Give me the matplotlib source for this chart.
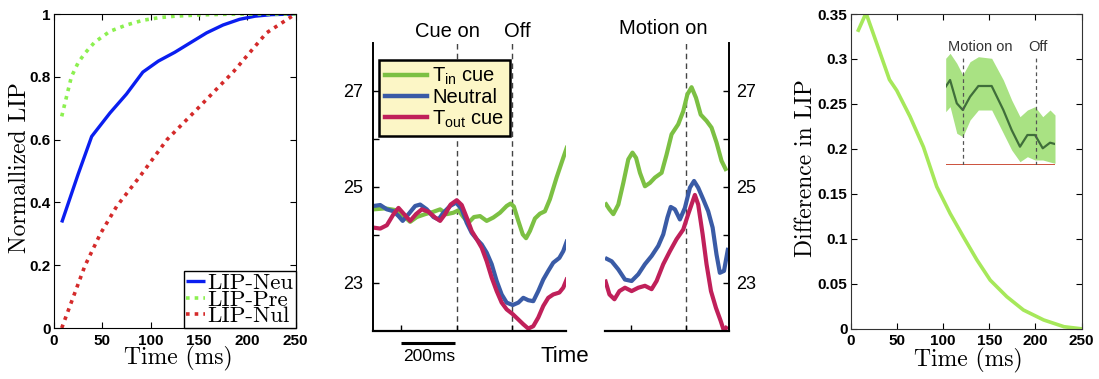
import matplotlib
matplotlib.use("Agg")
import matplotlib.pyplot as plt
from matplotlib.lines import Line2D

plt.rcParams['font.family'] = ['Liberation Sans', 'DejaVu Sans']
plt.rcParams['mathtext.fontset'] = 'custom'
plt.rcParams['mathtext.rm'] = 'Liberation Sans'
plt.rcParams['mathtext.it'] = 'Liberation Sans:italic'
plt.rcParams['mathtext.bf'] = 'Liberation Sans:bold'

# ---------------- data ----------------
# Panel A: normalized LIP activity over time
neu_t = [8, 25, 39, 58, 75, 92, 108, 125, 142, 158, 175, 192, 208, 225, 250]
neu_v = [0.336, 0.49, 0.61, 0.685, 0.745, 0.815, 0.85, 0.878, 0.91, 0.94, 0.965, 0.983, 0.993, 0.998, 1.0]
pre_t = [8, 18, 25, 32, 42, 58, 75, 92, 108, 125, 150, 175, 200, 225, 250]
pre_v = [0.674, 0.80, 0.845, 0.875, 0.91, 0.945, 0.965, 0.98, 0.988, 0.993, 0.997, 0.999, 1.0, 1.0, 1.0]
nul_t = [8, 32, 48, 65, 89, 117, 151, 186, 220, 250]
nul_v = [0.0, 0.198, 0.30, 0.388, 0.483, 0.60, 0.706, 0.817, 0.94, 1.0]

# Panel B: firing rate aligned to cue onset (ms)
cue_tin_t = [-300, -258, -216, -192, -168, -144, -114, -84, -60, -36, -12, 6, 24, 42, 62, 84, 108,
             132, 156, 180, 194, 206, 222, 238, 250, 264, 282, 300, 318, 336, 360, 384, 399]
cue_tin_v = [24.53, 24.55, 24.51, 24.39, 24.27, 24.37, 24.43, 24.48, 24.53, 24.43, 24.46, 24.51, 24.37,
             24.25, 24.37, 24.39, 24.29, 24.36, 24.46, 24.60, 24.65, 24.59, 24.29, 24.01, 23.93, 24.08,
             24.34, 24.44, 24.49, 24.74, 25.19, 25.60, 25.85]
cue_neu_t = [-300, -276, -252, -228, -210, -195, -174, -150, -132, -108, -84, -66, -48, -24, -2, 18,
             36, 54, 72, 90, 108, 126, 144, 162, 180, 202, 222, 240, 258, 276, 294, 312, 330, 348,
             370, 384, 399]
cue_neu_v = [24.60, 24.62, 24.53, 24.49, 24.39, 24.29, 24.43, 24.60, 24.63, 24.53, 24.37, 24.32, 24.46,
             24.60, 24.67, 24.53, 24.25, 24.04, 23.91, 23.80, 23.63, 23.39, 23.04, 22.76, 22.59, 22.54,
             22.59, 22.69, 22.64, 22.62, 22.83, 23.07, 23.25, 23.42, 23.52, 23.66, 23.90]
cue_tout_t = [-300, -276, -252, -228, -210, -190, -168, -147, -126, -102, -78, -60, -42, -22, 0, 18,
              36, 54, 72, 90, 108, 126, 144, 162, 180, 202, 222, 240, 258, 276, 294, 312, 330, 348,
              370, 384, 399]
cue_tout_v = [24.15, 24.13, 24.20, 24.43, 24.56, 24.43, 24.29, 24.43, 24.53, 24.48, 24.36, 24.29, 24.43,
              24.63, 24.72, 24.62, 24.36, 24.08, 23.91, 23.73, 23.45, 23.11, 22.83, 22.59, 22.45, 22.35,
              22.24, 22.14, 22.05, 22.10, 22.28, 22.52, 22.69, 22.76, 22.80, 22.90, 23.11]

# Panel B: firing rate aligned to motion onset (ms)
mot_tin_t = [-292, -276, -262, -244, -226, -208, -193, -180, -166, -148, -130, -112, -88, -70, -52,
             -28, -10, 5, 20, 36, 53, 74, 92, 110, 128, 146]
mot_tin_v = [24.67, 24.53, 24.43, 24.63, 25.08, 25.57, 25.71, 25.60, 25.29, 25.01, 25.08, 25.19, 25.29,
             25.67, 26.09, 26.30, 26.57, 26.92, 27.07, 26.85, 26.50, 26.37, 26.23, 25.92, 25.54, 25.33]
mot_neu_t = [-292, -268, -244, -220, -196, -172, -148, -124, -100, -82, -67, -55, -40, -22, -4, 14,
             29, 44, 62, 80, 96, 110, 122, 137, 152]
mot_neu_v = [23.52, 23.45, 23.28, 23.07, 23.04, 23.18, 23.39, 23.56, 23.77, 24.01, 24.36, 24.58, 24.53,
             24.32, 24.56, 24.98, 25.12, 24.98, 24.74, 24.49, 24.15, 23.59, 23.21, 23.25, 23.73]
mot_tout_t = [-292, -276, -258, -240, -220, -196, -172, -148, -124, -106, -82, -58, -34, -10, 8, 20,
              32, 44, 60, 74, 90, 108, 125, 137, 149]
mot_tout_v = [23.07, 22.76, 22.66, 22.83, 22.90, 22.83, 22.90, 22.94, 22.87, 23.04, 23.39, 23.66, 23.91,
              24.11, 24.43, 24.63, 24.83, 24.63, 24.01, 23.39, 22.83, 22.48, 22.21, 22.00, 22.10]

# Panel C: difference in LIP activity
diff_t = [8, 16.3, 28, 41.7, 49.6, 64, 78.6, 93, 107.6, 122, 136.6, 151, 169, 187, 209, 231, 249]
diff_v = [0.332, 0.351, 0.317, 0.277, 0.265, 0.236, 0.202, 0.158, 0.128, 0.102, 0.0764, 0.054, 0.0356,
          0.0208, 0.0097, 0.0022, 0.0]

# Panel C inset: mean difference with confidence band
ins_t = [-117, -87, -41, 0, 50, 107, 198, 278, 335, 392, 443, 495, 548, 598, 632]
ins_mean = [0.783, 0.85, 0.617, 0.55, 0.683, 0.79, 0.79, 0.55, 0.35, 0.183, 0.30, 0.30, 0.167, 0.223, 0.21]
ins_hi = [1.067, 1.117, 1.017, 0.90, 1.033, 1.083, 1.067, 0.85, 0.65, 0.483, 0.55, 0.583, 0.483, 0.55, 0.50]
ins_lo = [0.533, 0.583, 0.317, 0.283, 0.45, 0.55, 0.55, 0.317, 0.15, 0.033, 0.083, 0.05, 0.05, 0.03, 0.017]

W, H = 1099, 379
fig = plt.figure(figsize=(W / 100, H / 100), dpi=100)


def box(left, top, right, bottom):
    return [left / W, 1 - bottom / H, (right - left) / W, (bottom - top) / H]


serif = dict(family='cmr10', size=17)
bold_ticks = dict(family='Liberation Sans', weight='bold', size=11)

# ---------------- panel A ----------------
ax1 = fig.add_axes(box(54, 14, 295.5, 328))
ax1.plot(neu_t, neu_v, color='#0a1ef0', lw=2.4, solid_capstyle='butt', label='LIP-Neu')
ax1.plot(pre_t, pre_v, color='#8cf050', lw=2.6, ls=(0, (1, 1.4)), label='LIP-Pre')
ax1.plot(nul_t, nul_v, color='#d42a2a', lw=2.6, ls=(0, (1, 1.4)), label='LIP-Nul')
ax1.set_xlim(0, 250)
ax1.set_ylim(0, 1)
ax1.set_xticks([0, 50, 100, 150, 200, 250])
ax1.set_yticks([0, 0.2, 0.4, 0.6, 0.8, 1])
ax1.set_yticklabels(['0', '0.2', '0.4', '0.6', '0.8', '1'])
ax1.tick_params(direction='in', top=True, right=True, length=4, width=0.8)
ax1.tick_params(axis='y', pad=2.5)
ax1.tick_params(axis='x', pad=4)
for lab in ax1.get_xticklabels() + ax1.get_yticklabels():
    lab.set_fontproperties(bold_ticks)
leg1 = ax1.legend(loc='lower right', prop=dict(family='cmr10', size=16.5), handlelength=0.8,
                  handletextpad=0.1, borderpad=0.1, labelspacing=-0.17, borderaxespad=0,
                  fancybox=False, framealpha=1, edgecolor='black')
leg1.get_frame().set_linewidth(1.0)
fig.text(20 / W, 1 - 168 / H, 'Normallized LIP', rotation=90, ha='center', va='center', **serif)
fig.text(178 / W, 1 - 358 / H, 'Time (ms)', ha='center', va='center', **serif)

# ---------------- panel B ----------------
c_green, c_blue, c_red = '#7cc043', '#3a5ba6', '#c0205a'
lw_mid = 3.0
line_kw = dict(lw=lw_mid, solid_capstyle='butt', solid_joinstyle='round')

axc = fig.add_axes(box(373, 42.5, 566, 331))
axc.plot(cue_tin_t, cue_tin_v, color=c_green, **line_kw)
axc.plot(cue_neu_t, cue_neu_v, color=c_blue, **line_kw)
axc.plot(cue_tout_t, cue_tout_v, color=c_red, **line_kw)
axc.set_xlim(-302, 394)
axc.set_ylim(22, 28)
for x in (0, 200):
    axc.axvline(x, color='#444444', lw=1, ls=(0, (4, 3)), zorder=0)
axc.spines['top'].set_visible(False)
axc.spines['right'].set_visible(False)
axc.spines['left'].set_linewidth(1.4)
axc.spines['bottom'].set_linewidth(1.6)
axc.set_xticks([-200, 0, 200])
axc.set_xticklabels([])
axc.set_yticks([23, 24, 25, 26, 27])
axc.set_yticklabels(['23', '', '25', '', '27'])
axc.tick_params(direction='in', length=4, width=1, labelsize=13, pad=7)
# 200 ms scale bar
axc.plot([-200, -8], [21.75, 21.75], color='black', lw=2.2, clip_on=False, solid_capstyle='butt')
axc.text(-100, 21.47, '200ms', ha='center', va='center', fontsize=12.5)
fig.text(565 / W, 1 - 356 / H, 'Time', ha='center', va='center', fontsize=16)
fig.text(447 / W, 1 - 31.7 / H, 'Cue on', ha='center', va='center', fontsize=14.5)
fig.text(517 / W, 1 - 31.7 / H, 'Off', ha='center', va='center', fontsize=14.5)

handles = [Line2D([], [], color=c_green, lw=3.2), Line2D([], [], color=c_blue, lw=3.2),
           Line2D([], [], color=c_red, lw=3.2)]
labels = [r'$\mathrm{T_{in}\ cue}$', 'Neutral', r'$\mathrm{T_{out}\ cue}$']
legc = axc.legend(handles, labels, loc='upper left', bbox_to_anchor=(379 / W, 1 - 60 / H),
                  bbox_transform=fig.transFigure, fontsize=14.5, handlelength=2.1,
                  handletextpad=0.25, borderpad=0.3, labelspacing=0.05, borderaxespad=0,
                  fancybox=False, framealpha=1, facecolor='#fcf6c6', edgecolor='black')
legc.get_frame().set_linewidth(1.8)

axm = fig.add_axes(box(605, 42.5, 729, 331))
axm.plot(mot_tin_t, mot_tin_v, color=c_green, **line_kw)
axm.plot(mot_neu_t, mot_neu_v, color=c_blue, **line_kw)
axm.plot(mot_tout_t, mot_tout_v, color=c_red, **line_kw)
axm.set_xlim(-292, 155)
axm.set_ylim(22, 28)
axm.axvline(0, color='#444444', lw=1, ls=(0, (4, 3)), zorder=0)
axm.spines['top'].set_visible(False)
axm.spines['left'].set_visible(False)
axm.spines['right'].set_linewidth(1.4)
axm.spines['bottom'].set_linewidth(1.6)
axm.yaxis.tick_right()
axm.set_xticks([-200, 0])
axm.set_xticklabels([])
axm.set_yticks([23, 24, 25, 26, 27])
axm.set_yticklabels(['23', '', '25', '', '27'])
axm.tick_params(direction='in', length=4, width=1, labelsize=13, pad=5)
fig.text(663 / W, 1 - 28 / H, 'Motion on', ha='center', va='center', fontsize=14.5)

# ---------------- panel C ----------------
ax4 = fig.add_axes(box(851, 14, 1081.5, 328.7))
ax4.plot(diff_t, diff_v, color='#a6e85a', lw=2.6, solid_joinstyle='round')
ax4.set_xlim(0, 250)
ax4.set_ylim(0, 0.35)
ax4.set_xticks([0, 50, 100, 150, 200, 250])
ax4.set_yticks([0, 0.05, 0.1, 0.15, 0.2, 0.25, 0.3, 0.35])
ax4.set_yticklabels(['0', '0.05', '0.1', '0.15', '0.2', '0.25', '0.3', '0.35'])
ax4.tick_params(direction='in', top=True, right=True, length=4, width=0.8)
ax4.tick_params(axis='y', pad=2.5)
ax4.tick_params(axis='x', pad=4)
for lab in ax4.get_xticklabels() + ax4.get_yticklabels():
    lab.set_fontproperties(bold_ticks)
for s in ax4.spines.values():
    s.set_color('#333333')
fig.text(806 / W, 1 - 168 / H, 'Difference in LIP', rotation=90, ha='center', va='center', **serif)
fig.text(968 / W, 1 - 360 / H, 'Time (ms)', ha='center', va='center', **serif)

# inset: difference trace around motion epoch
axi = fig.add_axes(box(945.7, 50, 1055, 165))
axi.fill_between(ins_t, ins_lo, ins_hi, color='#a9e283', lw=0)
axi.plot(ins_t, ins_mean, color='#3f6e3a', lw=1.6)
axi.axhline(0, color='#c8412a', lw=2)
for x in (0, 500):
    axi.plot([x, x], [0, 1.07], color='#555555', lw=0.9, ls=(0, (3, 2.5)))
axi.text(118, 1.18, 'Motion on', ha='center', va='center', fontsize=10.5, color='#333333')
axi.text(516, 1.18, 'Off', ha='center', va='center', fontsize=10.5, color='#333333')
axi.set_xlim(-117, 632)
axi.set_ylim(0, 1.15)
axi.axis('off')

fig.savefig('out.png', dpi=100)
